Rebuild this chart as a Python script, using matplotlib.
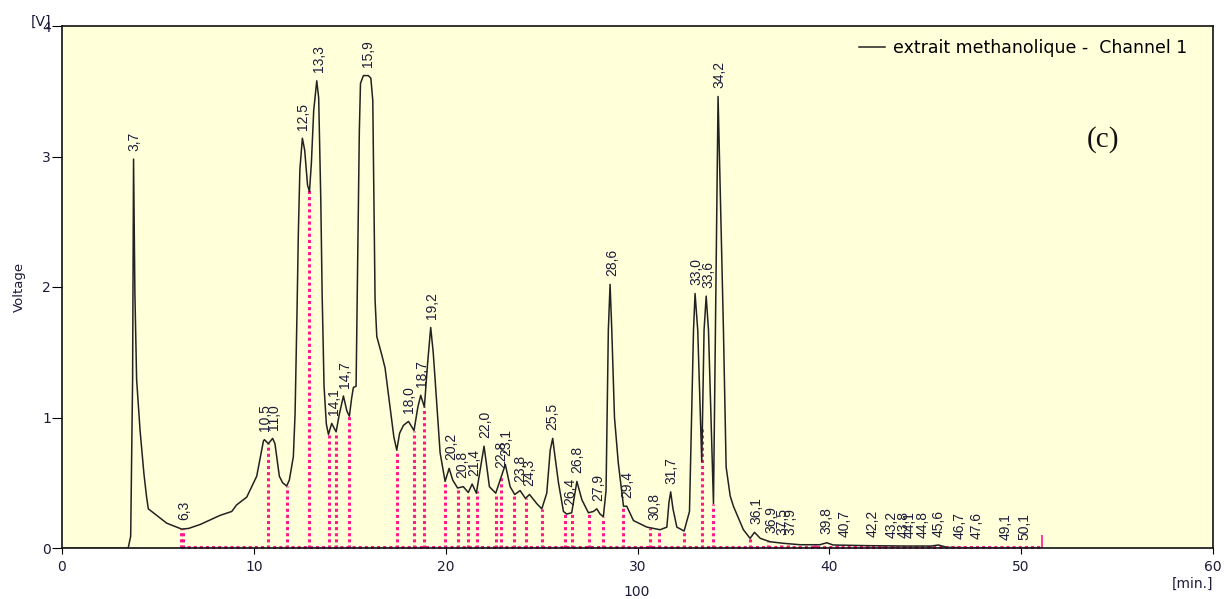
import numpy as np
import matplotlib.pyplot as plt

# detector trace, retention time [min] and voltage [V]
trace_t = [0.0, 3.45, 3.58, 3.68, 3.73, 3.80, 3.89, 4.07, 4.27, 4.41, 4.50, 4.94, 5.46, 6.24,
           6.6, 7.2, 7.8, 8.24, 8.85, 9.1, 9.63, 10.15, 10.5, 10.55, 10.76, 10.98, 11.1, 11.33,
           11.5, 11.71, 11.85, 12.06, 12.15, 12.25, 12.32, 12.4, 12.53, 12.65, 12.8, 12.9, 13.0,
           13.12, 13.28, 13.38, 13.49, 13.56, 13.66, 13.78, 13.89, 14.06, 14.18, 14.29, 14.45,
           14.67, 14.85, 14.98, 15.1, 15.19, 15.33, 15.4, 15.5, 15.56, 15.71, 15.97, 16.1, 16.2,
           16.27, 16.32, 16.41, 16.67, 16.84, 17.1, 17.3, 17.45, 17.6, 17.8, 18.06, 18.35, 18.55,
           18.7, 18.89, 19.05, 19.22, 19.35, 19.45, 19.71, 19.97, 20.18, 20.37, 20.62, 20.92,
           21.18, 21.38, 21.6, 21.8, 22.0, 22.12, 22.28, 22.61, 22.84, 23.11, 23.36, 23.6, 23.88,
           24.16, 24.37, 24.75, 25.01, 25.27, 25.45, 25.58, 25.7, 25.88, 26.14, 26.31, 26.57,
           26.84, 27.1, 27.44, 27.7, 27.88, 28.05, 28.22, 28.36, 28.48, 28.57, 28.66, 28.8, 29.0,
           29.27, 29.44, 29.79, 30.49, 31.18, 31.53, 31.64, 31.73, 31.85, 32.05, 32.43, 32.71,
           32.92, 33.0, 33.14, 33.35, 33.47, 33.58, 33.7, 33.96, 34.05, 34.2, 34.35, 34.48, 34.62,
           34.83, 35.0, 35.52, 35.87, 36.1, 36.4, 36.91, 37.6, 38.48, 39.5, 39.87, 40.2, 41.95,
           44.04, 45.3, 45.69, 46.12, 47.16, 51.1]
trace_v = [0.0, 0.0, 0.09, 1.29, 2.98, 1.95, 1.29, 0.90, 0.57, 0.39, 0.30, 0.25, 0.19, 0.145,
           0.15, 0.18, 0.22, 0.25, 0.28, 0.33, 0.39, 0.55, 0.82, 0.83, 0.80, 0.84, 0.80, 0.55,
           0.50, 0.475, 0.52, 0.70, 1.03, 1.8, 2.41, 2.9, 3.14, 3.05, 2.78, 2.73, 2.95,
           3.35, 3.58, 3.45, 2.67, 1.95, 1.24, 0.95, 0.87, 0.955, 0.92, 0.89, 1.02,
           1.165, 1.05, 1.01, 1.15, 1.23, 1.24, 2.05, 3.2, 3.56, 3.62, 3.62, 3.6, 3.43,
           2.5, 1.9, 1.62, 1.48, 1.38, 1.08, 0.85, 0.75, 0.88, 0.94, 0.97, 0.90, 1.08,
           1.17, 1.08, 1.4, 1.69, 1.5, 1.29, 0.73, 0.51, 0.61, 0.52, 0.46, 0.47,
           0.425, 0.49, 0.42, 0.6, 0.78, 0.65, 0.47, 0.42, 0.52, 0.64, 0.47, 0.41, 0.44,
           0.38, 0.41, 0.34, 0.30, 0.42, 0.75, 0.84, 0.7, 0.50, 0.28, 0.26, 0.27,
           0.51, 0.37, 0.27, 0.28, 0.30, 0.26, 0.24, 0.44, 1.67, 2.02, 1.67, 1.0, 0.65,
           0.32, 0.32, 0.21, 0.16, 0.14, 0.16, 0.35, 0.43, 0.3, 0.16, 0.13, 0.28,
           1.67, 1.95, 1.67, 0.66, 1.67, 1.93, 1.67, 0.34, 1.5, 3.46, 2.5, 1.67, 0.62,
           0.40, 0.32, 0.14, 0.074, 0.12, 0.074, 0.048, 0.036, 0.025, 0.025, 0.04, 0.023, 0.018,
           0.015, 0.015, 0.023, 0.005, 0.002, 0.0]

# identified peaks (retention time labels)
peak_t = [3.7, 6.3, 10.5, 11.0, 12.5, 13.3, 14.1, 14.7, 15.9, 18.0, 18.7, 19.2, 20.2, 20.8,
          21.4, 22.0, 22.8, 23.1, 23.8, 24.3, 25.5, 26.4, 26.8, 27.9, 28.6, 29.4, 30.8, 31.7,
          33.0, 33.6, 34.2, 36.1, 36.9, 37.5, 37.9, 39.8, 40.7, 42.2, 43.2, 43.8, 44.1, 44.8,
          45.6, 46.7, 47.6, 49.1, 50.1]

# integration drop lines
drop_t = [6.22, 6.30, 10.75, 11.71, 12.88, 13.92, 14.29, 14.98, 17.45, 18.35, 18.89, 19.97,
          20.62, 21.18, 21.62, 22.61, 22.89, 23.58, 24.18, 25.01, 26.23, 26.57, 27.48, 28.22,
          29.27, 30.66, 31.13, 32.43, 33.38, 33.96, 35.88, 36.8, 37.46, 37.82, 39.26, 40.39,
          42.04, 42.82, 43.34, 43.95, 44.56, 45.26, 46.21, 46.73, 47.69, 48.9, 49.95]
integration_end = 51.08
integration_end_height = 0.1

pink = '#ff1a8c'
ink = '#1c1c3a'

fig = plt.figure(figsize=(12.24, 5.99), dpi=100)
ax = fig.add_axes([62 / 1224, 51 / 599, 1151 / 1224, 522 / 599])
ax.set_facecolor('#ffffda')

# drop lines from baseline up to the trace
drop_top = np.interp(drop_t, trace_t, trace_v)
ax.vlines(drop_t, 0, drop_top, colors=pink, linewidth=2.2, linestyles=(0, (1, 1)), zorder=2)
ax.hlines(0.004, drop_t[0], integration_end, colors=pink, linewidth=2.2,
          linestyles=(0, (1, 1)), zorder=2, clip_on=False)
ax.vlines(integration_end, 0, integration_end_height, colors=pink, linewidth=1.2, zorder=2)

ax.plot(trace_t, trace_v, color='#222222', linewidth=1.1, zorder=3,
        label='extrait methanolique -  Channel 1')

# peak labels just above the apex
for t in peak_t:
    top = np.interp(np.linspace(t - 0.1, t + 0.1, 21), trace_t, trace_v).max()
    ax.annotate(f'{t:.1f}'.replace('.', ','), (t, top), xytext=(1, 6),
                textcoords='offset points', rotation=90, ha='center', va='bottom',
                fontsize=10, family='Liberation Sans', color=ink, zorder=4)

ax.set_xlim(0, 60)
ax.set_ylim(0, 4)
ax.set_xticks(range(0, 61, 10))
ax.set_yticks(range(0, 5))
ax.tick_params(axis='y', direction='out', length=7, pad=1, labelsize=10, labelcolor=ink)
ax.tick_params(axis='x', direction='out', length=4.5, pad=4, labelsize=10, labelcolor=ink)
for s in ax.spines.values():
    s.set_color('#111111')
    s.set_linewidth(1.2)

fig.text(19 / 1224, 1 - 287 / 599, 'Voltage', rotation=90, ha='center', va='center',
         fontsize=9.5, color=ink)
fig.text(41 / 1224, 1 - 22 / 599, '[V]', ha='center', va='center', fontsize=10, color=ink)
fig.text(637 / 1224, 1 - 592 / 599, '100', ha='center', va='center', fontsize=10, color=ink)
fig.text(1213 / 1224, 1 - 584 / 599, '[min.]', ha='right', va='center', fontsize=10, color=ink)
ax.text((1103 - 62) / 1151, 1 - (140 - 26) / 522, '(c)',
        transform=ax.transAxes, ha='center', va='center', fontsize=21,
        family='Liberation Serif', color='#111111')

ax.legend(loc='upper right', bbox_to_anchor=(0.978, 0.975), frameon=False,
          borderpad=0, borderaxespad=0, handlelength=1.5, handletextpad=0.5,
          prop={'family': 'DejaVu Sans', 'size': 12.5})

fig.savefig('out.png', dpi=100)
